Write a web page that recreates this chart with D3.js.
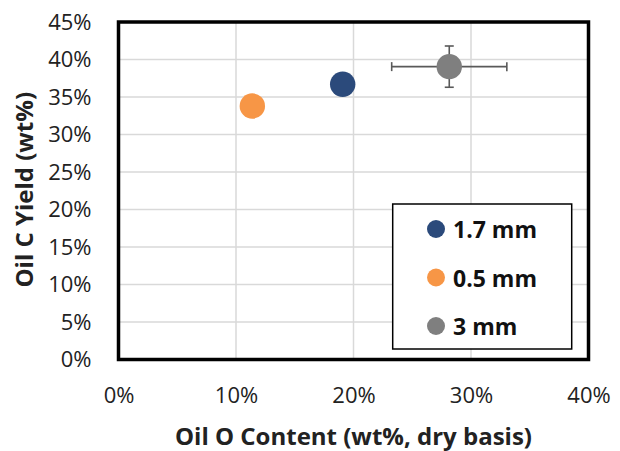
<!DOCTYPE html>
<html>
<head>
<meta charset="utf-8">
<script src="https://cdn.jsdelivr.net/npm/d3@7"></script>
<style>
  html, body { margin: 0; padding: 0; background: #fff; }
  svg text { font-family: "Open Sans", Lato, sans-serif; }
</style>
</head>
<body>
<svg id="chart" width="620" height="451"></svg>
<script>
// Oil oxygen content vs. oil carbon yield by particle size
const seriesNames = ["1.7 mm", "0.5 mm", "3 mm"];
const seriesColors = ["#2b4a7b", "#f79646", "#7f7f7f"];
const oxygenContent = [0.1908, 0.1139, 0.2815];   // x, fraction
const carbonYield = [0.367, 0.338, 0.3905];        // y, fraction
const xErr = [null, null, 0.049];
const yErr = [null, null, 0.0275];
const xTicks = [0, 0.1, 0.2, 0.3, 0.4];
const yTicks = [0, 0.05, 0.1, 0.15, 0.2, 0.25, 0.3, 0.35, 0.4, 0.45];

const svg = d3.select("#chart");
const plot = { left: 118.5, right: 588.5, top: 22, bottom: 359.5 };

const x = d3.scaleLinear().domain([0, 0.4]).range([plot.left, plot.right]);
const y = d3.scaleLinear().domain([0, 0.45]).range([plot.bottom, plot.top]);
const pct = d3.format(".0%");

// gridlines
svg.append("g").selectAll("line").data(xTicks).join("line")
  .attr("x1", d => x(d)).attr("x2", d => x(d))
  .attr("y1", plot.top).attr("y2", plot.bottom)
  .attr("stroke", "#d9d9d9").attr("stroke-width", 1.5);
svg.append("g").selectAll("line").data(yTicks).join("line")
  .attr("x1", plot.left).attr("x2", plot.right)
  .attr("y1", d => y(d)).attr("y2", d => y(d))
  .attr("stroke", "#d9d9d9").attr("stroke-width", 1.5);

// axes (tick labels only)
const xAxis = svg.append("g").attr("transform", `translate(0,${plot.bottom})`)
  .call(d3.axisBottom(x).tickValues(xTicks).tickFormat(pct).tickSize(0).tickPadding(28));
const yAxis = svg.append("g").attr("transform", `translate(${plot.left},0)`)
  .call(d3.axisLeft(y).tickValues(yTicks).tickFormat(pct).tickSize(0).tickPadding(27));
[xAxis, yAxis].forEach(a => {
  a.select(".domain").remove();
  a.selectAll("text").attr("font-size", 22).attr("fill", "#222")
    .style("font-family", "'Open Sans', Lato, sans-serif");
});

// plot frame
svg.append("rect")
  .attr("x", plot.left).attr("y", plot.top)
  .attr("width", plot.right - plot.left).attr("height", plot.bottom - plot.top)
  .attr("fill", "none").attr("stroke", "#000").attr("stroke-width", 3.5);

// error bars
const pts = seriesNames.map((n, i) => ({
  name: n, color: seriesColors[i], x: oxygenContent[i], y: carbonYield[i], ex: xErr[i], ey: yErr[i]
}));
const eb = svg.append("g").attr("stroke", "#595959").attr("stroke-width", 1.6);
const cap = 4.5;
pts.filter(d => d.ex != null).forEach(d => {
  eb.append("line").attr("x1", x(d.x - d.ex)).attr("x2", x(d.x + d.ex)).attr("y1", y(d.y)).attr("y2", y(d.y));
  [d.x - d.ex, d.x + d.ex].forEach(v => eb.append("line")
    .attr("x1", x(v)).attr("x2", x(v)).attr("y1", y(d.y) - cap).attr("y2", y(d.y) + cap));
});
pts.filter(d => d.ey != null).forEach(d => {
  eb.append("line").attr("x1", x(d.x)).attr("x2", x(d.x)).attr("y1", y(d.y - d.ey)).attr("y2", y(d.y + d.ey));
  [d.y - d.ey, d.y + d.ey].forEach(v => eb.append("line")
    .attr("x1", x(d.x) - cap).attr("x2", x(d.x) + cap).attr("y1", y(v)).attr("y2", y(v)));
});

// points
svg.append("g").selectAll("circle").data(pts).join("circle")
  .attr("cx", d => x(d.x)).attr("cy", d => y(d.y)).attr("r", 12.7)
  .attr("fill", d => d.color);

// axis titles
svg.append("text").attr("x", (plot.left + plot.right) / 2).attr("y", 445)
  .attr("text-anchor", "middle").attr("font-size", 24).attr("font-weight", "bold")
  .attr("fill", "#222").text("Oil O Content (wt%, dry basis)");
svg.append("text")
  .attr("transform", `translate(33,${(plot.top + plot.bottom) / 2 - 1}) rotate(-90)`)
  .attr("text-anchor", "middle").attr("font-size", 24).attr("font-weight", "bold")
  .attr("fill", "#222").text("Oil C Yield (wt%)");

// legend
const lg = svg.append("g");
lg.append("rect").attr("x", 392.7).attr("y", 204).attr("width", 179).attr("height", 145)
  .attr("fill", "#fff").attr("stroke", "#000").attr("stroke-width", 1.5);
const ly = d3.scalePoint().domain(seriesNames).range([229, 326]);
const items = lg.selectAll("g.item").data(pts).join("g").attr("class", "item")
  .attr("transform", d => `translate(436,${ly(d.name)})`);
items.append("circle").attr("r", 9).attr("fill", d => d.color);
items.append("text").attr("x", 17).attr("y", 9).attr("font-size", 23)
  .attr("font-weight", "bold").attr("fill", "#111").text(d => d.name);
</script>
</body>
</html>
